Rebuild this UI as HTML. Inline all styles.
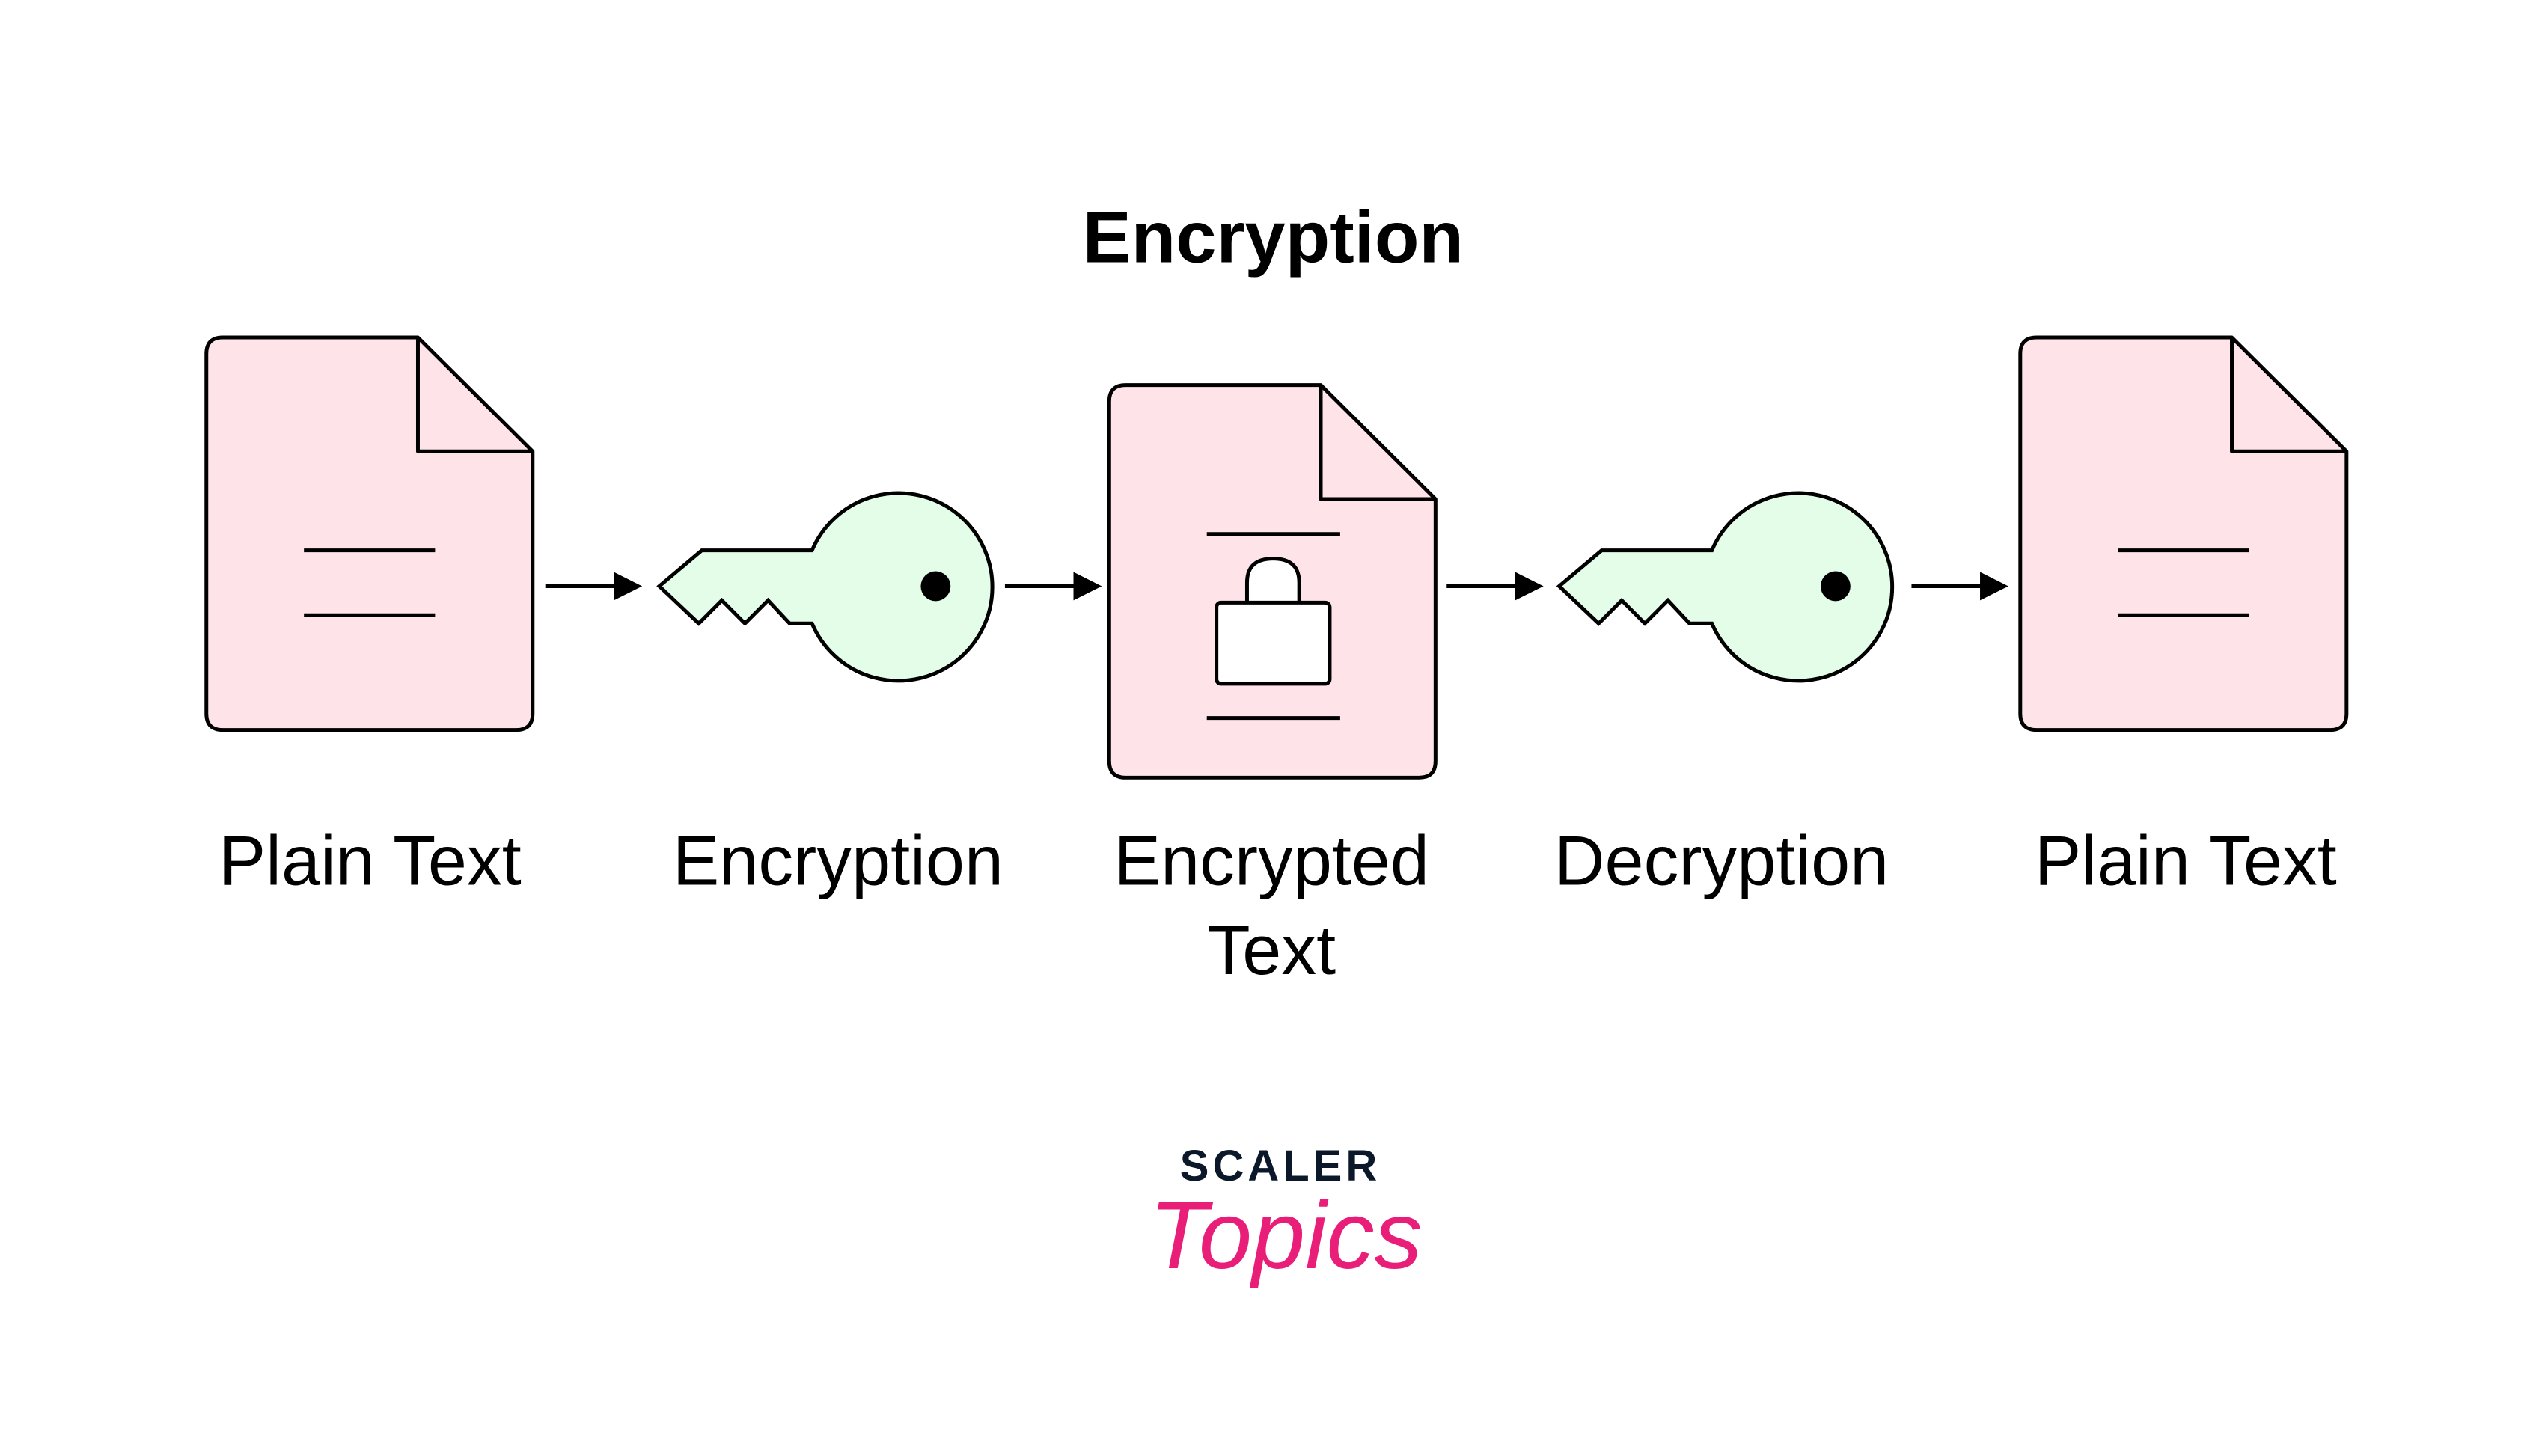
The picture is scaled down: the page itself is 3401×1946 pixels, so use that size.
<!DOCTYPE html>
<html><head><meta charset="utf-8"><style>
html,body{margin:0;padding:0;background:#fff;width:3401px;height:1946px;overflow:hidden}
svg{display:block}
text{font-family:"Liberation Sans",sans-serif}
</style></head><body>
<svg width="3401" height="1946" viewBox="0 0 3401 1946" xmlns="http://www.w3.org/2000/svg">
<defs>
<g id="doc">
<path d="M22 0 H284 L438 153 V505 Q438 527 416 527 H22 Q0 527 0 505 V22 Q0 0 22 0 Z" fill="#fee4e8" stroke="#000" stroke-width="5" stroke-linejoin="round"/>
<path d="M284 0 V153 H438" fill="none" stroke="#000" stroke-width="5" stroke-linejoin="round"/>
</g>
<g id="key">
<path d="M0 0 L57 -48 H205 A126 126 0 1 1 205 50 H175 L146 19 L115 50 L84 19 L53 50 Z" fill="#e3fde8" stroke="#000" stroke-width="5" stroke-linejoin="miter"/>
<circle cx="371" cy="0" r="20" fill="#000"/>
</g>
<g id="arrow">
<line x1="0" y1="0" x2="100" y2="0" stroke="#000" stroke-width="5"/>
<path d="M92 -19 L130 0 L92 19 Z" fill="#000"/>
</g>
</defs>
<g transform="scale(0.9955)">
<text x="1709" y="352" font-size="98" font-weight="bold" text-anchor="middle">Encryption</text>

<use href="#doc" x="277" y="453"/>
<line x1="408" y1="739" x2="584" y2="739" stroke="#000" stroke-width="5"/>
<line x1="408" y1="826" x2="584" y2="826" stroke="#000" stroke-width="5"/>

<use href="#arrow" x="732" y="787"/>
<use href="#key" x="885" y="787"/>
<use href="#arrow" x="1349" y="787"/>

<use href="#doc" x="1489" y="517"/>
<line x1="1620" y1="717" x2="1799" y2="717" stroke="#000" stroke-width="5"/>
<line x1="1620" y1="964" x2="1799" y2="964" stroke="#000" stroke-width="5"/>
<path d="M1674 809 V782 Q1674 750 1709 750 Q1744 750 1744 782 V809" fill="#fff" stroke="#000" stroke-width="5"/>
<rect x="1633" y="809" width="152" height="109" rx="6" fill="#fff" stroke="#000" stroke-width="5"/>

<use href="#arrow" x="1942" y="787"/>
<use href="#key" x="2093" y="787"/>
<use href="#arrow" x="2566" y="787"/>

<use href="#doc" x="2712" y="453"/>
<line x1="2843" y1="739" x2="3019" y2="739" stroke="#000" stroke-width="5"/>
<line x1="2843" y1="826" x2="3019" y2="826" stroke="#000" stroke-width="5"/>

<g font-size="94" text-anchor="middle" fill="#000">
<text x="497" y="1188">Plain Text</text>
<text x="1125" y="1188">Encryption</text>
<text x="1707" y="1188">Encrypted</text>
<text x="1707" y="1308">Text</text>
<text x="2311" y="1188">Decryption</text>
<text x="2934" y="1188">Plain Text</text>
</g>
</g>
<text x="1711" y="1578" font-size="58" font-weight="bold" text-anchor="middle" fill="#0b1829" letter-spacing="5">SCALER</text>
<text x="1718" y="1695" font-size="128" font-style="italic" font-family="Liberation Serif,serif" text-anchor="middle" fill="#e91e78">Topics</text>
</svg>
</body></html>
